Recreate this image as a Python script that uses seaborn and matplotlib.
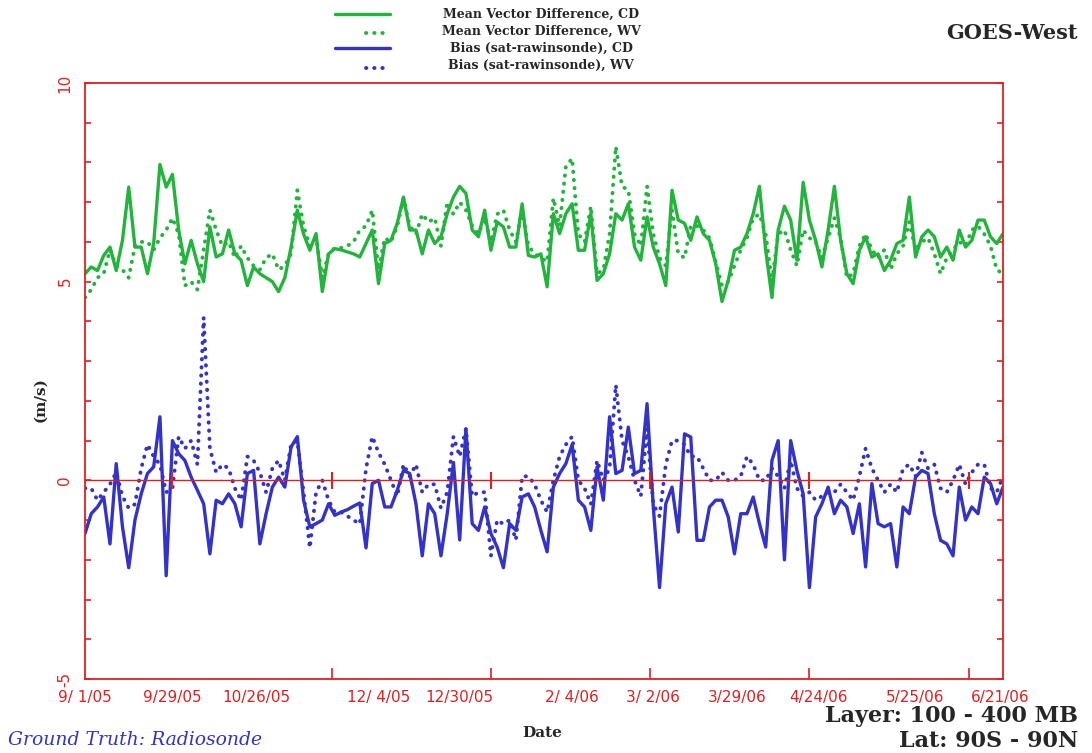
import pandas as pd
import matplotlib
matplotlib.use("Agg")
import matplotlib.pyplot as plt
import seaborn as sns
from matplotlib.lines import Line2D
from matplotlib.ticker import MultipleLocator

# days since 9/1/05, one reading every 2 days
start = pd.Timestamp("2005-09-01")
day_offsets = list(range(0, 295, 2))

mvd_cd = [5.2, 5.37, 5.28, 5.66, 5.87, 5.28, 6.04, 7.38, 5.87, 5.87,
          5.2, 5.96, 7.95, 7.38, 7.7, 6.3, 5.45, 6.04, 5.45, 5.0,
          6.38, 5.62, 5.7, 6.3, 5.7, 5.54, 4.9, 5.37, 5.2, 5.1,
          5.0, 4.75, 5.1, 5.87, 6.8, 6.2, 5.79, 6.21, 4.75, 5.7,
          5.83, 5.8, 5.75, 5.7, 5.62, 5.96, 6.3, 4.95, 5.96, 6.04,
          6.47, 7.13, 6.3, 6.3, 5.7, 6.3, 5.96, 6.13, 6.71, 7.13,
          7.4, 7.22, 6.3, 6.13, 6.8, 5.79, 6.5, 6.38, 5.87, 5.87,
          6.96, 5.66, 5.62, 5.7, 4.87, 6.71, 6.21, 6.71, 6.96, 5.79,
          5.79, 6.71, 5.03, 5.2, 5.7, 6.71, 6.55, 6.96, 5.87, 5.54,
          6.63, 5.87, 5.45, 4.9, 7.3, 6.55, 6.47, 6.04, 6.63, 6.21,
          6.04, 5.45, 4.5, 5.03, 5.79, 5.87, 6.21, 6.71, 7.4, 5.79,
          4.6, 6.3, 6.9, 6.55, 5.54, 7.5, 6.55, 6.04, 5.37, 6.3,
          7.4, 6.04, 5.2, 4.95, 5.79, 6.13, 5.62, 5.7, 5.28, 5.54,
          5.96, 6.04, 7.13, 5.62, 6.13, 6.3, 6.13, 5.62, 5.87, 5.54,
          6.3, 5.87, 6.04, 6.55, 6.55, 6.13, 5.96, 6.21]

mvd_wv = [4.6, 4.8, 5.1, 5.2, 5.8, 5.4, 5.3, 5.1, 5.9, 6.0,
          6.0, 5.8, 6.1, 6.3, 6.6, 6.2, 4.9, 5.0, 4.8, 5.8,
          6.8, 6.3, 5.9, 6.0, 5.6, 5.9, 5.6, 5.4, 5.3, 5.6,
          5.7, 5.3, 5.4, 5.7, 7.3, 6.4, 5.9, 6.1, 5.1, 5.7,
          5.85, 5.85, 5.9, 6.0, 6.3, 6.4, 6.8, 5.3, 6.1, 6.0,
          6.4, 7.1, 6.4, 6.2, 6.7, 6.5, 6.6, 5.9, 7.0, 6.7,
          7.0, 6.8, 6.4, 6.2, 6.6, 6.0, 6.7, 6.8, 6.3, 6.0,
          6.8, 5.9, 5.7, 5.6, 5.5, 7.1, 6.4, 7.9, 8.1, 6.2,
          6.0, 6.9, 5.2, 5.3, 6.2, 8.4, 7.4, 7.3, 6.2, 5.9,
          7.4, 6.2, 5.6, 5.4, 6.8, 5.7, 5.6, 6.4, 6.4, 6.3,
          6.1, 5.5, 4.9, 5.0, 5.4, 5.8, 6.1, 6.6, 6.7, 6.2,
          5.0, 6.2, 6.3, 5.8, 5.4, 6.3, 6.1, 6.0, 5.6, 6.1,
          6.6, 6.1, 5.1, 5.2, 5.9, 6.2, 5.8, 5.6, 5.8, 5.3,
          5.7, 5.9, 6.5, 5.8, 6.0, 6.1, 5.7, 5.2, 5.6, 5.8,
          6.0, 5.9, 6.3, 6.4, 6.2, 5.9, 5.3, 5.2]

bias_cd = [-1.34, -0.84, -0.67, -0.42, -1.6, 0.42, -1.17, -2.2, -1.0, -0.34,
           0.17, 0.34, 1.6, -2.4, 1.0, 0.67, 0.5, 0.08, -0.25, -0.59,
           -1.85, -0.5, -0.59, -0.34, -0.59, -1.17, 0.17, 0.25, -1.6, -0.84,
           -0.17, 0.08, -0.17, 0.84, 1.1, -0.5, -1.17, -1.09, -1.0, -0.59,
           -0.88, -0.8, -0.74, -0.65, -0.57, -1.7, -0.08, 0.0, -0.67, -0.67,
           -0.25, 0.25, 0.17, -0.59, -1.9, -0.59, -0.84, -1.9, -0.84, 0.45,
           -1.5, 1.3, -1.09, -1.26, -0.67, -1.34, -1.68, -2.2, -1.09, -1.26,
           -0.42, -0.34, -0.67, -1.26, -1.8, -0.17, 0.17, 0.42, 0.9, -0.5,
           -0.67, -1.26, 0.34, -0.5, 1.6, 0.17, 0.25, 1.34, 0.17, 0.25,
           1.93, -0.67, -2.7, -0.59, -0.17, -1.3, 1.17, 1.09, -1.51, -1.51,
           -0.67, -0.5, -0.5, -0.92, -1.85, -0.84, -0.84, -0.42, -1.09, -1.68,
           0.5, 1.0, -2.0, 1.0, 0.25, -0.34, -2.7, -0.92, -0.59, -0.17,
           -0.84, -0.5, -0.67, -1.34, -0.59, -2.18, -0.08, -1.09, -1.17, -1.09,
           -2.18, -0.67, -0.84, 0.08, 0.25, 0.17, -0.84, -1.51, -1.6, -1.9,
           -0.17, -1.0, -0.67, -0.84, 0.08, -0.08, -0.59, -0.17]

bias_wv = [-0.2, -0.2, -0.5, -0.3, -0.1, 0.2, -0.4, -0.7, -0.6, 0.3,
           0.9, 0.6, 0.4, -0.3, -0.2, 1.1, 0.8, 1.0, 0.4, 4.1,
           0.8, 0.2, 0.4, 0.3, -0.2, -0.5, 0.6, 0.5, 0.2, -0.3,
           0.3, 0.5, 0.0, 0.9, 1.0, -0.3, -1.7, -0.3, 0.0, -0.5,
           -0.8, -0.8, -0.9, -1.0, -1.1, 0.3, 1.1, 0.7, 0.4, 0.0,
           -0.4, 0.4, 0.1, 0.4, -0.3, -0.1, -0.1, -0.7, -0.3, 1.1,
           0.6, 1.3, -0.4, -0.3, -0.3, -1.9, -1.0, -1.1, -1.0, -1.5,
           0.1, 0.1, -0.1, -0.5, -0.8, 0.0, 0.6, 0.9, 1.1, 0.0,
           -0.2, -0.6, 0.5, 0.0, 0.3, 2.4, 1.0, 0.6, 0.0, -0.4,
           1.3, -0.6, -0.9, 0.4, 1.0, 1.0, 0.9, 0.6, 0.6, 0.3,
           0.0, 0.0, 0.2, 0.0, 0.0, 0.1, 0.6, 0.4, 0.0, 0.0,
           0.3, 0.1, -0.2, 0.5, -0.2, -0.4, -0.3, -0.5, -0.4, -0.3,
           -0.3, -0.1, -0.3, -0.5, 0.1, 0.8, 0.3, 0.0, -0.3, -0.1,
           -0.3, 0.3, 0.4, 0.1, 0.7, 0.3, 0.4, -0.2, -0.3, 0.0,
           0.4, -0.1, 0.2, 0.4, 0.4, -0.2, -0.3, 0.1]

label_dates = ["2005-09-01", "2005-09-29", "2005-10-26", "2005-12-04", "2005-12-30",
               "2006-02-04", "2006-03-02", "2006-03-29", "2006-04-24", "2006-05-25",
               "2006-06-21"]
date_labels = ["9/ 1/05", "9/29/05", "10/26/05", "12/ 4/05", "12/30/05", "2/ 4/06",
               "3/ 2/06", "3/29/06", "4/24/06", "5/25/06", "6/21/06"]
frame_tick_days = [28, 79, 130, 181, 232, 283]

series_names = ["Mean Vector Difference, CD", "Mean Vector Difference, WV",
                "Bias (sat-rawinsonde), CD", "Bias (sat-rawinsonde), WV"]

GREEN = "#22b43c"
BLUE = "#3333cc"
RED = "#e02020"

sns.set_theme(style="white")
plt.rcParams["font.family"] = ["DejaVu Sans"]

df = pd.DataFrame({"day": day_offsets, "mvd_cd": mvd_cd, "mvd_wv": mvd_wv,
                   "bias_cd": bias_cd, "bias_wv": bias_wv})

fig = plt.figure(figsize=(10.92, 7.53), dpi=100)
ax = fig.add_axes([85 / 1092, 1 - 679 / 753, 918 / 1092, 596 / 753])

dot = dict(linestyle=(0, (0.1, 2.0)), dash_capstyle="round", linewidth=2.8)
sns.lineplot(data=df, x="day", y="mvd_wv", color=GREEN, ax=ax, **dot)
sns.lineplot(data=df, x="day", y="mvd_cd", color=GREEN, linewidth=2.4, ax=ax)
sns.lineplot(data=df, x="day", y="bias_wv", color=BLUE, ax=ax, **dot)
sns.lineplot(data=df, x="day", y="bias_cd", color=BLUE, linewidth=2.4, ax=ax)

ax.axhline(0, color=RED, lw=1, zorder=5)
ax.vlines(frame_tick_days, -0.22, 0.22, color=RED, lw=1.5, zorder=5)

ax.set_xlim(0, 294)
ax.set_ylim(-5, 10)

label_days = [(pd.Timestamp(d) - start).days for d in label_dates]
ax.set_xticks(label_days)
ax.set_xticklabels(date_labels)
ax.set_xticks(frame_tick_days, minor=True)
ax.tick_params(axis="x", which="major", length=0, pad=8, labelsize=11, labelcolor=RED)
ax.tick_params(axis="x", which="minor", direction="in", length=8, color=RED, width=1.2,
               bottom=True)

ax.set_yticks([-5, 0, 5, 10])
ax.set_yticklabels(["-5", "0", "5", "10"], rotation=90, va="center")
ax.yaxis.set_minor_locator(MultipleLocator(1))
ax.tick_params(axis="y", which="both", direction="in", length=4, width=1.2, color=RED,
               left=True, right=True, labelsize=11, labelcolor=RED, pad=9)

for s in ax.spines.values():
    s.set_color(RED)
    s.set_linewidth(1.3)

ax.set_xlabel("")
ax.set_ylabel("")
fig.text(0.497, 0.026, "Date", ha="center", va="center", family="DejaVu Serif",
         weight="bold", fontsize=11)
fig.text(0.037, 0.469, "(m/s)", ha="center", va="center", rotation=90,
         family="DejaVu Serif", weight="bold", fontsize=11)

# legend drawn by hand: lines on the left, labels centred to the right
rows_y = [1 - 14 / 753, 1 - 33 / 753, 1 - 48 / 753, 1 - 68 / 753]
text_y = [1 - 14 / 753, 1 - 31 / 753, 1 - 48 / 753, 1 - 65 / 753]
styles = [(GREEN, "-", 0.307), (GREEN, dot["linestyle"], 0.335),
          (BLUE, "-", 0.307), (BLUE, dot["linestyle"], 0.335)]
for (c, ls, x0), y, ty, name in zip(styles, rows_y, text_y, series_names):
    fig.add_artist(Line2D([x0, 0.357], [y, y], transform=fig.transFigure, color=c,
                          linestyle=ls, linewidth=2.8 if ls != "-" else 2.4,
                          dash_capstyle="round"))
    fig.text(0.4954, ty, name, ha="center", va="center", family="DejaVu Serif",
             weight="bold", fontsize=9)

fig.text(0.987, 0.956, "GOES-West", ha="right", va="center", family="DejaVu Serif",
         weight="bold", fontsize=15)
fig.text(0.987, 0.049, "Layer: 100 - 400 MB", ha="right", va="center",
         family="DejaVu Serif", weight="bold", fontsize=16)
fig.text(0.987, 0.016, "Lat: 90S - 90N", ha="right", va="center",
         family="DejaVu Serif", weight="bold", fontsize=16)
fig.text(0.007, 0.017, "Ground Truth: Radiosonde", ha="left", va="center",
         family="DejaVu Serif", style="italic", color=BLUE, fontsize=13.5)

fig.savefig("out.png", dpi=100)
